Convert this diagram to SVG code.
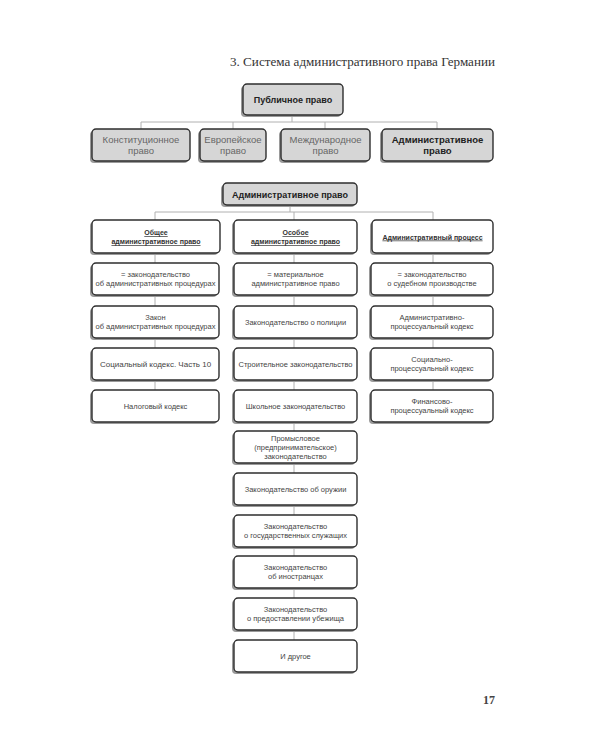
<svg xmlns="http://www.w3.org/2000/svg" width="600" height="750" viewBox="0 0 600 750">
<style>
.bg{fill:#ffffff}
.sh{fill:#9a9a9a}
.box{fill:#ffffff;stroke:#2e2e2e;stroke-width:1.4}
.gbox{fill:#d6d6d6;stroke:#2e2e2e;stroke-width:1.4}
.con{fill:none;stroke:#b0b0b0;stroke-width:1}
.t{font-family:"Liberation Sans",Arial,sans-serif;font-size:7.5px;fill:#444;text-anchor:middle}
.t2{font-family:"Liberation Sans",Arial,sans-serif;font-size:9.5px;fill:#666;text-anchor:middle}
.tb{font-family:"Liberation Sans",Arial,sans-serif;font-size:9px;font-weight:bold;fill:#222;text-anchor:middle}
.th{font-family:"Liberation Sans",Arial,sans-serif;font-size:7px;font-weight:bold;fill:#333;text-anchor:middle;text-decoration:underline}
.title{font-family:"Liberation Serif","Times New Roman",serif;font-size:13px;fill:#333}
.pn{font-family:"Liberation Serif","Times New Roman",serif;font-size:12px;font-weight:bold;fill:#444}
</style>
<rect class="bg" x="0" y="0" width="600" height="750"/>
<text class="title" x="230" y="66" textLength="265" lengthAdjust="spacingAndGlyphs">3. Система административного права Германии</text>

<g id="connectors">
<path class="con" d="M292 115V122M141 122H437M141 122V129M233 122V129M325 122V129M437 122V129"/>
<path class="con" d="M290 205V212M155 212H433M155 212V390M294 212V640M433 212V390"/>
</g>

<g id="n-public"><rect class="sh" x="241" y="86" width="100" height="31" rx="4"/><rect class="gbox" x="243" y="84" width="100" height="31" rx="4"/><text class="tb" x="293" y="103">Публичное право</text></g>

<g id="n-const"><rect class="sh" x="90" y="131" width="98" height="32" rx="4"/><rect class="gbox" x="92" y="129" width="98" height="32" rx="4"/><text class="t2" x="141" y="143">Конституционное</text><text class="t2" x="141" y="154">право</text></g>
<g id="n-euro"><rect class="sh" x="198" y="131" width="66" height="32" rx="4"/><rect class="gbox" x="200" y="129" width="66" height="32" rx="4"/><text class="t2" x="233" y="143">Европейское</text><text class="t2" x="233" y="154">право</text></g>
<g id="n-inter"><rect class="sh" x="279" y="131" width="89" height="32" rx="4"/><rect class="gbox" x="281" y="129" width="89" height="32" rx="4"/><text class="t2" x="325.5" y="143">Международное</text><text class="t2" x="325.5" y="154">право</text></g>
<g id="n-admin1"><rect class="sh" x="380" y="131" width="111" height="32" rx="4"/><rect class="gbox" x="382" y="129" width="111" height="32" rx="4"/><text class="tb" x="437.5" y="143" style="font-size:9.5px">Административное</text><text class="tb" x="437.5" y="154" style="font-size:9.5px">право</text></g>

<g id="n-admin2"><rect class="sh" x="221" y="185" width="134" height="22" rx="4"/><rect class="gbox" x="223" y="183" width="134" height="22" rx="4"/><text class="tb" x="290" y="197.5">Административное право</text></g>

<g id="h1"><rect class="sh" x="90" y="222" width="128" height="33" rx="4"/><rect class="box" x="92" y="220" width="128" height="33" rx="4"/><text class="th" x="156" y="235">Общее</text><text class="th" x="156" y="244">административное право</text></g>
<g id="h2"><rect class="sh" x="232" y="222" width="123" height="33" rx="4"/><rect class="box" x="234" y="220" width="123" height="33" rx="4"/><text class="th" x="295.5" y="235">Особое</text><text class="th" x="295.5" y="244">административное право</text></g>
<g id="h3"><rect class="sh" x="370" y="222" width="121" height="33" rx="4"/><rect class="box" x="372" y="220" width="121" height="33" rx="4"/><text class="th" x="432.5" y="239.5">Административный процесс</text></g>

<g id="c1r1"><rect class="sh" x="90" y="265" width="127" height="32" rx="4"/><rect class="box" x="92" y="263" width="127" height="32" rx="4"/><text class="t" x="155.5" y="277">= законодательство</text><text class="t" x="155.5" y="286">об административных процедурах</text></g>
<g id="c1r2"><rect class="sh" x="90" y="308" width="127" height="32" rx="4"/><rect class="box" x="92" y="306" width="127" height="32" rx="4"/><text class="t" x="155.5" y="320">Закон</text><text class="t" x="155.5" y="329">об административных процедурах</text></g>
<g id="c1r3"><rect class="sh" x="90" y="350" width="127" height="32" rx="4"/><rect class="box" x="92" y="348" width="127" height="32" rx="4"/><text class="t" x="155.5" y="367" style="font-size:8px">Социальный кодекс. Часть 10</text></g>
<g id="c1r4"><rect class="sh" x="90" y="392" width="127" height="32" rx="4"/><rect class="box" x="92" y="390" width="127" height="32" rx="4"/><text class="t" x="155.5" y="409">Налоговый кодекс</text></g>

<g id="c2r1"><rect class="sh" x="232" y="265" width="123" height="32" rx="4"/><rect class="box" x="234" y="263" width="123" height="32" rx="4"/><text class="t" x="295.5" y="277">= материальное</text><text class="t" x="295.5" y="286">административное право</text></g>
<g id="c2r2"><rect class="sh" x="232" y="308" width="123" height="32" rx="4"/><rect class="box" x="234" y="306" width="123" height="32" rx="4"/><text class="t" x="295.5" y="325">Законодательство о полиции</text></g>
<g id="c2r3"><rect class="sh" x="232" y="350" width="123" height="32" rx="4"/><rect class="box" x="234" y="348" width="123" height="32" rx="4"/><text class="t" x="295.5" y="367">Строительное законодательство</text></g>
<g id="c2r4"><rect class="sh" x="232" y="392" width="123" height="32" rx="4"/><rect class="box" x="234" y="390" width="123" height="32" rx="4"/><text class="t" x="295.5" y="409">Школьное законодательство</text></g>
<g id="c2r5"><rect class="sh" x="232" y="433" width="123" height="32" rx="4"/><rect class="box" x="234" y="431" width="123" height="32" rx="4"/><text class="t" x="295.5" y="441">Промысловое</text><text class="t" x="295.5" y="450">(предпринимательское)</text><text class="t" x="295.5" y="459">законодательство</text></g>
<g id="c2r6"><rect class="sh" x="232" y="475" width="123" height="32" rx="4"/><rect class="box" x="234" y="473" width="123" height="32" rx="4"/><text class="t" x="295.5" y="492">Законодательство об оружии</text></g>
<g id="c2r7"><rect class="sh" x="232" y="517" width="123" height="32" rx="4"/><rect class="box" x="234" y="515" width="123" height="32" rx="4"/><text class="t" x="295.5" y="529">Законодательство</text><text class="t" x="295.5" y="538">о государственных служащих</text></g>
<g id="c2r8"><rect class="sh" x="232" y="558" width="123" height="32" rx="4"/><rect class="box" x="234" y="556" width="123" height="32" rx="4"/><text class="t" x="295.5" y="570">Законодательство</text><text class="t" x="295.5" y="579">об иностранцах</text></g>
<g id="c2r9"><rect class="sh" x="232" y="600" width="123" height="32" rx="4"/><rect class="box" x="234" y="598" width="123" height="32" rx="4"/><text class="t" x="295.5" y="612">Законодательство</text><text class="t" x="295.5" y="621">о предоставлении убежища</text></g>
<g id="c2r10"><rect class="sh" x="232" y="642" width="123" height="32" rx="4"/><rect class="box" x="234" y="640" width="123" height="32" rx="4"/><text class="t" x="295.5" y="659">И другое</text></g>

<g id="c3r1"><rect class="sh" x="369" y="265" width="122" height="32" rx="4"/><rect class="box" x="371" y="263" width="122" height="32" rx="4"/><text class="t" x="432" y="277">= законодательство</text><text class="t" x="432" y="286">о судебном производстве</text></g>
<g id="c3r2"><rect class="sh" x="369" y="308" width="122" height="32" rx="4"/><rect class="box" x="371" y="306" width="122" height="32" rx="4"/><text class="t" x="432" y="320">Административно-</text><text class="t" x="432" y="329">процессуальный кодекс</text></g>
<g id="c3r3"><rect class="sh" x="369" y="350" width="122" height="32" rx="4"/><rect class="box" x="371" y="348" width="122" height="32" rx="4"/><text class="t" x="432" y="362">Социально-</text><text class="t" x="432" y="371">процессуальный кодекс</text></g>
<g id="c3r4"><rect class="sh" x="369" y="392" width="122" height="32" rx="4"/><rect class="box" x="371" y="390" width="122" height="32" rx="4"/><text class="t" x="432" y="404">Финансово-</text><text class="t" x="432" y="413">процессуальный кодекс</text></g>

<text class="pn" x="483" y="704">17</text>
</svg>
